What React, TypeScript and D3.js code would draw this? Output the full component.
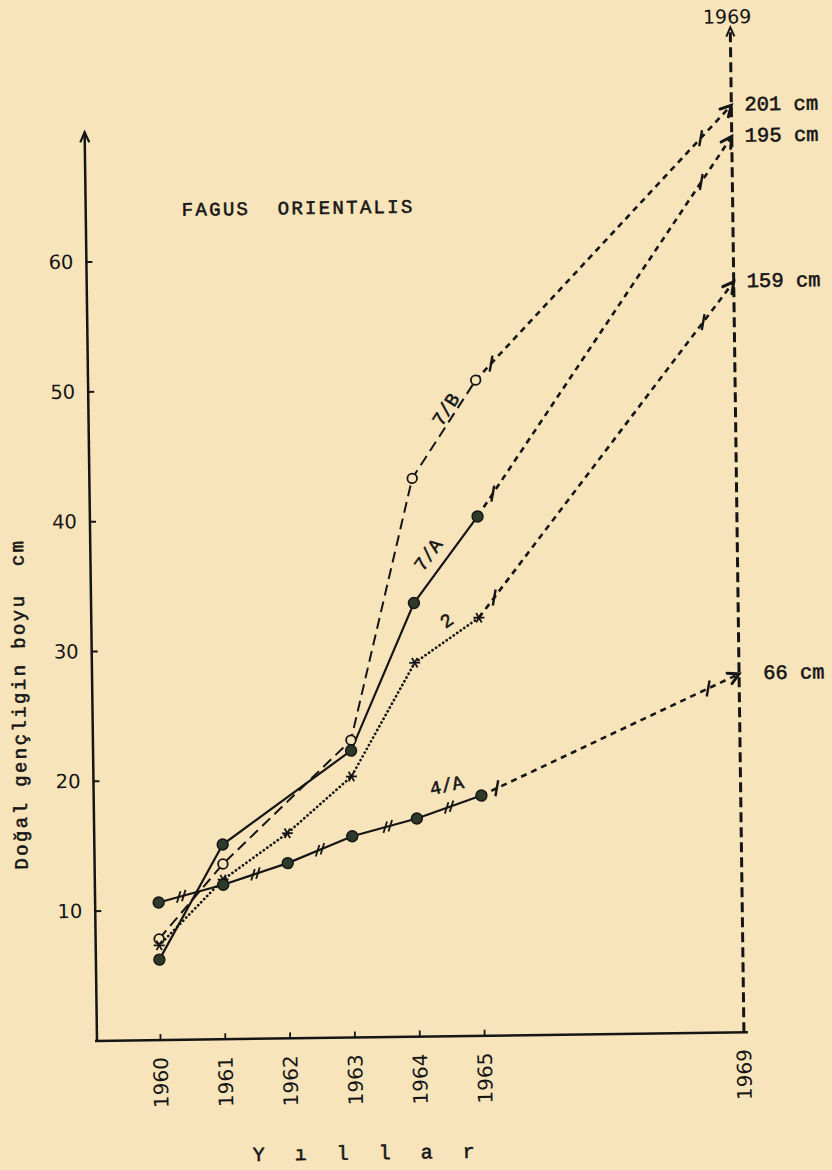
import React from 'react';
import * as d3 from 'd3';

// ---------------- data ----------------
const years = [1960, 1961, 1962, 1963, 1964, 1965];
const tickYears = [1960, 1961, 1962, 1963, 1964, 1965, 1969];
const yTickValues = [10, 20, 30, 40, 50, 60];

const values7B: (number | null)[] = [7.8, 13.5, null, 22.9, 43.0, 50.5];
const values7A: (number | null)[] = [6.2, 15.0, null, 22.1, 33.4, 40.0];
const values2: (number | null)[] = [7.3, 12.3, 15.8, 20.1, 28.8, 32.2];
const values4A: (number | null)[] = [10.6, 11.9, 13.5, 15.5, 16.8, 18.5];

const seriesNames = ['7/B', '7/A', '2', '4/A'];
const heights1969 = ['201 cm', '195 cm', '159 cm', '66 cm'];
// where the 1969 arrows end, read on the chart's own scale (not to scale with the labels)
const arrowTipValues = [71.4, 69.0, 57.8, 27.6];
const hashFractions = [0.35, 0.5, 0.5, 0.55, 0.5];
const targetYear = 1969;

const title = 'FAGUS  ORIENTALIS';
const yTitle = 'Doğal gençligin boyu  cm';
const xTitle = 'Yıllar';

// ---------------- styles ----------------
const W = 832;
const H = 1170;
const BG = '#f8e4bb';
const INK = '#151515';
const DOT = '#2d3a2a';
const MONO = "'Liberation Mono', 'DejaVu Sans Mono', monospace";
const SANS = "'DejaVu Sans', 'Liberation Sans', sans-serif";
const monoInk = { fill: INK, stroke: INK, strokeWidth: 0.55 };

const seriesStyles = [
  { dash: '11 6', width: 2, cap: 'butt', marker: 'open', labelT: 0.65, labelOff: 8, labelRot: null as number | null, endDx: 13 },
  { dash: null as string | null, width: 2.2, cap: 'butt', marker: 'filled', labelT: 0.44, labelOff: 16, labelRot: null as number | null, endDx: 13 },
  { dash: '0.1 4.2', width: 2.7, cap: 'round', marker: 'star', labelT: 0.64, labelOff: 15, labelRot: null as number | null, endDx: 13 },
  { dash: null as string | null, width: 2.2, cap: 'butt', marker: 'filled', labelT: 0.57, labelOff: 20, labelRot: -12 as number | null, endDx: 24 },
];

type Pt = { yr: number; v: number };

function arrowHead(x1: number, y1: number, x2: number, y2: number, len: number, spread: number) {
  const ang = Math.atan2(y2 - y1, x2 - x1);
  const a1 = ang + Math.PI + spread;
  const a2 = ang + Math.PI - spread;
  return `M${x2 + len * Math.cos(a1)},${y2 + len * Math.sin(a1)} L${x2},${y2} L${x2 + len * Math.cos(a2)},${y2 + len * Math.sin(a2)}`;
}

export default function App() {
  const AXIS_X = 97;
  const x = d3.scaleLinear().domain([1960, 1969]).range([160.5, 744]);
  const y = d3.scaleLinear().domain([0, 60]).range([1041, 262]);
  const baseY = y(0);
  const line = d3.line<Pt>().x((d) => x(d.yr)).y((d) => y(d.v));

  const all = [values7B, values7A, values2, values4A].map((vals, i) => ({
    name: seriesNames[i],
    pts: years
      .map((yr, j) => ({ yr, v: vals[j] }))
      .filter((p) => p.v != null) as Pt[],
    tip: arrowTipValues[i],
    label: heights1969[i],
    st: seriesStyles[i],
  }));

  const guideTop = y(77.4);

  return (
    <svg width={W} height={H} style={{ position: 'absolute', left: 0, top: 0, background: BG }}>
      <rect x={0} y={0} width={W} height={H} fill={BG} />
      <g transform={`rotate(-0.78, ${AXIS_X}, ${baseY})`}>
        {/* title */}
        <text x={193} y={217} fontFamily={MONO} fontSize={19} letterSpacing={2.3} {...monoInk} style={{ whiteSpace: 'pre' }} xmlSpace="preserve">
          {title}
        </text>

        {/* y axis */}
        <line x1={AXIS_X} y1={baseY + 1} x2={AXIS_X} y2={y(70)} stroke={INK} strokeWidth={2.5} />
        <path d={arrowHead(AXIS_X, baseY, AXIS_X, y(70), 11, 0.42)} fill="none" stroke={INK} strokeWidth={2.2} />
        {yTickValues.map((v) => (
          <g key={v}>
            <line x1={AXIS_X} x2={AXIS_X + 6} y1={y(v)} y2={y(v)} stroke={INK} strokeWidth={2} />
            <text x={AXIS_X - 13} y={y(v)} textAnchor="end" dominantBaseline="central" fontFamily={SANS} fontSize={19.5} fill={INK}>
              {v}
            </text>
          </g>
        ))}
        <text
          transform={`translate(25, 703) rotate(-90)`}
          textAnchor="middle"
          dominantBaseline="central"
          fontFamily={MONO}
          fontSize={19}
          letterSpacing={2.4}
          {...monoInk}
          style={{ whiteSpace: 'pre' }}
          xmlSpace="preserve"
        >
          {yTitle}
        </text>

        {/* x axis */}
        <line x1={AXIS_X - 2} y1={baseY} x2={x(targetYear) + 4} y2={baseY} stroke={INK} strokeWidth={2.5} />
        {tickYears.map((yr) => (
          <g key={yr}>
            <line x1={x(yr)} x2={x(yr)} y1={baseY} y2={baseY - 6} stroke={INK} strokeWidth={1.8} />
            <text
              transform={`translate(${x(yr)}, ${baseY + 17}) rotate(-90)`}
              textAnchor="end"
              dominantBaseline="central"
              fontFamily={SANS}
              fontSize={20}
              fill={INK}
            >
              {yr}
            </text>
          </g>
        ))}
        <text x={251} y={1163} fontFamily={MONO} fontSize={20} letterSpacing={30} {...monoInk}>
          {xTitle}
        </text>

        {/* 1969 guide */}
        <line x1={x(targetYear)} x2={x(targetYear)} y1={baseY} y2={guideTop} stroke={INK} strokeWidth={3} strokeDasharray="10 5" />
        <path d={arrowHead(x(targetYear), baseY, x(targetYear), guideTop, 10, 0.42)} fill="none" stroke={INK} strokeWidth={2} />
        <text x={x(targetYear) - 3} y={guideTop - 4} textAnchor="middle" fontFamily={SANS} fontSize={19} fill={INK}>
          {targetYear}
        </text>

        {/* extrapolations to 1969 */}
        {all.map((s) => {
          const last = s.pts[s.pts.length - 1];
          const x1 = x(last.yr);
          const y1 = y(last.v);
          const x2 = x(targetYear);
          const y2 = y(s.tip);
          const bars = [0.06, 0.88].map((t) => [x1 + t * (x2 - x1), y1 + t * (y2 - y1)]);
          return (
            <g key={'ex' + s.name}>
              <line x1={x1} y1={y1} x2={x2} y2={y2} stroke={INK} strokeWidth={2.6} strokeDasharray="6 5" />
              {bars.map(([bx, by], k) => (
                <line key={k} x1={bx + 1.5} y1={by - 8} x2={bx - 1.5} y2={by + 8} stroke={INK} strokeWidth={2.4} />
              ))}
              <path d={arrowHead(x1, y1, x2, y2, 12, 0.5)} fill="none" stroke={INK} strokeWidth={3} strokeLinecap="round" />
              <text x={x2 + s.st.endDx} y={y2} dominantBaseline="central" fontFamily={MONO} fontSize={20.5} {...monoInk}>
                {s.label}
              </text>
            </g>
          );
        })}

        {/* series lines */}
        {all.map((s) => (
          <path
            key={'l' + s.name}
            d={line(s.pts) || ''}
            fill="none"
            stroke={INK}
            strokeWidth={s.st.width}
            strokeDasharray={s.st.dash || undefined}
            strokeLinecap={s.st.cap as any}
          />
        ))}

        {/* hash marks on 4/A */}
        {(() => {
          const s = all[3];
          return s.pts.slice(0, -1).map((p, j) => {
            const q = s.pts[j + 1];
            const t = hashFractions[j];
            const px = x(p.yr) + t * (x(q.yr) - x(p.yr));
            const py = y(p.v) + t * (y(q.v) - y(p.v));
            const dx = x(q.yr) - x(p.yr);
            const dy = y(q.v) - y(p.v);
            const L = Math.hypot(dx, dy);
            const ux = dx / L;
            const uy = dy / L;
            const a = (-72 * Math.PI) / 180;
            const sx = Math.cos(a) * 6;
            const sy = Math.sin(a) * 6;
            return [-2.6, 2.6].map((o, k) => (
              <line
                key={`h${j}${k}`}
                x1={px + o * ux - sx}
                y1={py + o * uy - sy}
                x2={px + o * ux + sx}
                y2={py + o * uy + sy}
                stroke={INK}
                strokeWidth={1.8}
              />
            ));
          });
        })()}

        {/* markers */}
        {all.map((s) =>
          s.pts.map((p) => {
            const cx = x(p.yr);
            const cy = y(p.v);
            if (s.st.marker === 'open')
              return <circle key={s.name + p.yr} cx={cx} cy={cy} r={4.8} fill={BG} stroke={INK} strokeWidth={1.8} />;
            if (s.st.marker === 'filled')
              return <circle key={s.name + p.yr} cx={cx} cy={cy} r={5.5} fill={DOT} stroke={INK} strokeWidth={1.4} />;
            const r = 5.5;
            return (
              <g key={s.name + p.yr} stroke={INK} strokeWidth={1.8}>
                {[0, 60, 120].map((deg) => {
                  const a = (deg * Math.PI) / 180;
                  return <line key={deg} x1={cx - r * Math.cos(a)} y1={cy - r * Math.sin(a)} x2={cx + r * Math.cos(a)} y2={cy + r * Math.sin(a)} />;
                })}
              </g>
            );
          })
        )}

        {/* series labels */}
        {all.map((s) => {
          const n = s.pts.length;
          const p = s.pts[n - 2];
          const q = s.pts[n - 1];
          const x1 = x(p.yr);
          const y1 = y(p.v);
          const dx = x(q.yr) - x1;
          const dy = y(q.v) - y1;
          const L = Math.hypot(dx, dy);
          const ux = dx / L;
          const uy = dy / L;
          const lx = x1 + s.st.labelT * dx + s.st.labelOff * uy;
          const ly = y1 + s.st.labelT * dy - s.st.labelOff * ux;
          const rot = s.st.labelRot != null ? s.st.labelRot : (Math.atan2(dy, dx) * 180) / Math.PI;
          return (
            <text
              key={'lab' + s.name}
              transform={`translate(${lx}, ${ly}) rotate(${rot})`}
              textAnchor="middle"
              dominantBaseline="central"
              fontFamily={MONO}
              fontSize={19}
              {...monoInk}
            >
              {s.name}
            </text>
          );
        })}
      </g>
    </svg>
  );
}
